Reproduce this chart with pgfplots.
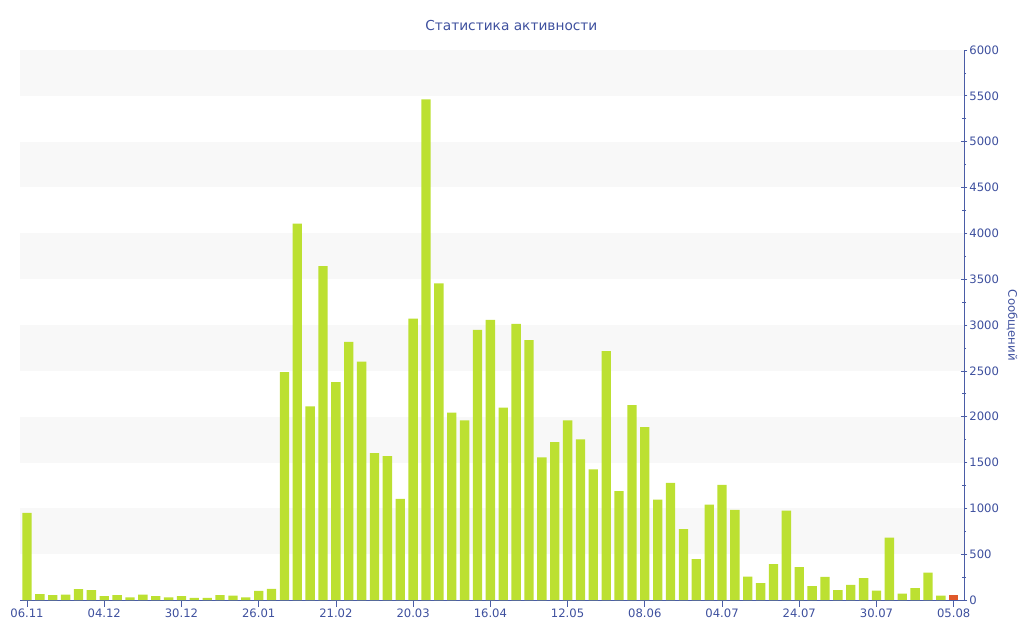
\documentclass[border=0pt]{standalone}
\usepackage{pgfplots}
\pgfplotsset{compat=1.18}
\usepackage{fontspec}
\setmainfont{DejaVu Sans}
\definecolor{barg}{HTML}{BCE031}
\definecolor{barr}{HTML}{E0582A}
\definecolor{axblue}{HTML}{4A5CA6}
\definecolor{txtblue}{HTML}{3E509E}
\definecolor{band}{HTML}{F8F8F8}
\pgfplotstableread{
x y
0 950
1 63
2 52
3 59
4 118
5 107
6 41
7 52
8 30
9 59
10 41
11 30
12 41
13 22
14 22
15 52
16 48
17 30
18 100
19 122
20 2485
21 4105
22 2112
23 3642
24 2376
25 2815
26 2601
27 1601
28 1570
29 1103
30 3070
31 5462
32 3455
33 2044
34 1959
35 2948
36 3055
37 2100
38 3011
39 2836
40 1557
41 1723
42 1959
43 1753
44 1424
45 2716
46 1187
47 2125
48 1886
49 1095
50 1277
51 774
52 445
53 1040
54 1257
55 982
56 255
57 184
58 392
59 976
60 358
61 152
62 253
63 109
64 164
65 238
66 103
67 680
68 70
69 129
70 300
71 48
}\green
\pgfplotstableread{
x y
72 55
}\red
\begin{document}
\begin{tikzpicture}
\path[use as bounding box] (0,0) rectangle (768pt,480pt);
\begin{axis}[
  at={(15pt,30pt)}, anchor=south west,
  scale only axis, width=708pt, height=412.5pt,
  xmin=-0.544, xmax=72.8, ymin=0, ymax=6000,
  axis x line=bottom, axis y line=right,
  axis line style={-, draw=axblue, line width=0.6pt},
  every tick/.style={draw=axblue, line width=0.5pt},
  tick align=center, major tick length=5pt, minor tick length=3pt,
  xtick={0,6,...,72},
  xticklabels={06.11,04.12,30.12,26.01,21.02,20.03,16.04,12.05,08.06,04.07,24.07,30.07,05.08},
  ytick={0,500,...,6000}, minor y tick num=1,
  /pgf/number format/assume math mode=true,
  /pgf/number format/1000 sep={},
  tick label style={font=\fontsize{8.7}{10}\selectfont, text=txtblue},
  xticklabel style={yshift=2pt},
  yticklabel style={xshift=-2pt},
  ybar, bar width=7pt,
  clip=false,
]
\fill[band] (axis cs:-0.544,500) rectangle (axis cs:72.8,1000);
\fill[band] (axis cs:-0.544,1500) rectangle (axis cs:72.8,2000);
\fill[band] (axis cs:-0.544,2500) rectangle (axis cs:72.8,3000);
\fill[band] (axis cs:-0.544,3500) rectangle (axis cs:72.8,4000);
\fill[band] (axis cs:-0.544,4500) rectangle (axis cs:72.8,5000);
\fill[band] (axis cs:-0.544,5500) rectangle (axis cs:72.8,6000);
\addplot[fill=barg, draw=none, bar shift=0pt] table[x=x,y=y]{\green};
\addplot[fill=barr, draw=none, bar shift=0pt] table[x=x,y=y]{\red};
\end{axis}
\node[text=txtblue, font=\fontsize{10.3}{12}\selectfont] at (383.5pt,461pt) {Статистика активности};
\node[text=txtblue, font=\fontsize{8.8}{10}\selectfont, rotate=-90] at (759pt,236pt) {Сообщений};
\end{tikzpicture}
\end{document}
